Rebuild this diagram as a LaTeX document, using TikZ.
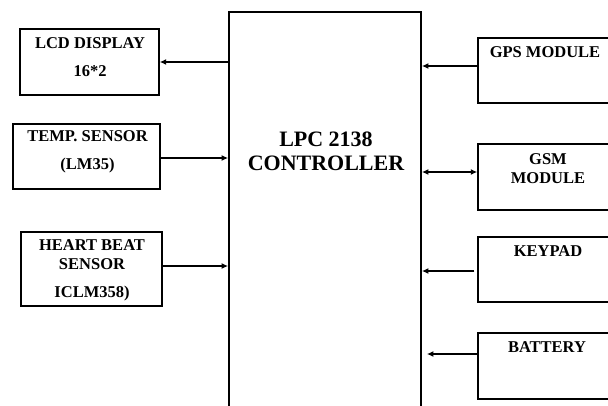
\documentclass[tikz,border=0pt]{standalone}
\usepackage{fontspec}
\setmainfont{Liberation Serif}
\usetikzlibrary{arrows.meta,positioning}

\begin{document}
\begin{tikzpicture}[x=1pt,y=-1pt,
    box/.style={draw,line width=1.4pt,inner sep=0pt},
    lbl/.style={font=\fontsize{16.5}{19}\selectfont\bfseries,align=center},
    arr/.style={line width=1.4pt,-{Latex[length=6.5pt,width=6pt]}},
    darr/.style={line width=1.4pt,{Latex[length=6.5pt,width=6pt]}-{Latex[length=6.5pt,width=6pt]}}]
  \clip (0,0) rectangle (608,405);
  \fill[white] (0,0) rectangle (608,405);
  % controller
  \node[box,line width=1.8pt,minimum width=192pt,minimum height=410pt] (ctrl) at (325,217) {};
  \node[lbl,font=\fontsize{22}{24}\selectfont\bfseries] (ctrltxt) at (326,151) {LPC 2138\\CONTROLLER};
  % left blocks
  \node[box,minimum width=139pt,minimum height=66pt] (lcd) at (89.5,62) {};
  \node[box,minimum width=147pt,minimum height=65pt] (temp) at (86.5,156.5) {};
  \node[box,minimum width=141pt,minimum height=74pt] (heart) at (91.5,269) {};
  \node[lbl] (lcdtxt) at (90,57) {LCD DISPLAY\\[9pt]16*2};
  \node[lbl] (temptxt) at (87.5,152) {TEMP. SENSOR\\[9pt](LM35)};
  \node[lbl] (hearttxt) at (92,270) {HEART BEAT\\SENSOR\\[9pt]ICLM358)};
  % right blocks
  \foreach \n/\y/\h in {gps/70.5/65,gsm/177/66,kpd/269.5/65,bat/366/66}
    \node[box,minimum width=140pt,minimum height=\h pt] (\n) at (548,\y) {};
  \node[lbl] (gpstxt) at (545,52) {GPS MODULE};
  \node[lbl] (gsmtxt) at (548,168.5) {GSM\\MODULE};
  \node[lbl] (kpdtxt) at (548,251) {KEYPAD};
  \node[lbl] (battxt) at (547,347) {BATTERY};
  % connections
  \draw[arr] (ctrl.west |- lcd.east) -- (lcd.east);
  \draw[arr] ([yshift=-1.5pt]temp.east) -- ([yshift=-1.5pt]ctrl.west |- temp.east);
  \draw[arr] ([yshift=3pt]heart.east) -- ([yshift=3pt]ctrl.west |- heart.east);
  \draw[arr] ([yshift=4.5pt]gps.west) -- ([yshift=4.5pt]ctrl.east |- gps.west);
  \draw[darr] ([yshift=5pt]ctrl.east |- gsm.west) -- ([yshift=5pt]gsm.west);
  \draw[arr] ([xshift=-3pt,yshift=-1.5pt]kpd.west) -- ([yshift=-1.5pt]ctrl.east |- kpd.west);
  \coordinate (batin) at ([xshift=5pt,yshift=12pt]ctrl.east |- bat.west);
  \draw[arr] ([yshift=12pt]bat.west) -- (batin);
\end{tikzpicture}
\end{document}
